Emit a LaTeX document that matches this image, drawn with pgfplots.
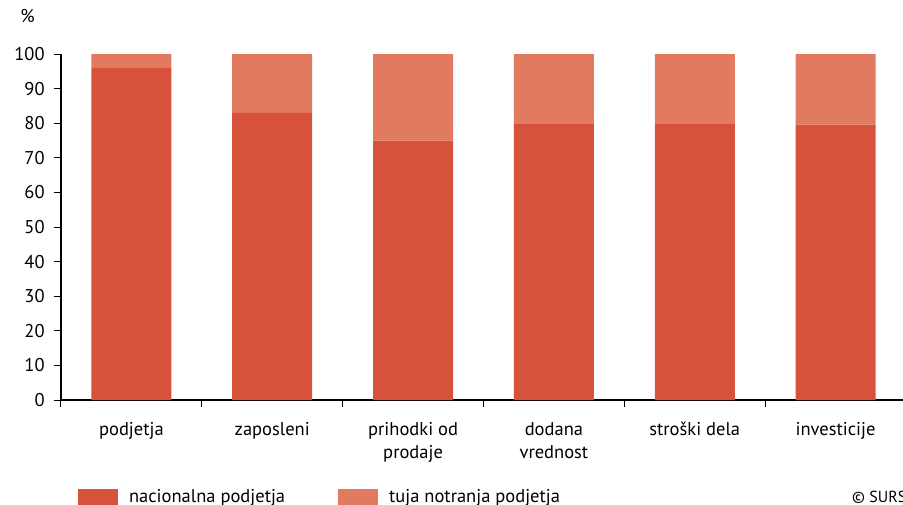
\documentclass[border=0pt]{standalone}
\usepackage{pgfplots}
\pgfplotsset{compat=1.18}
\usepackage{fontspec}
\setmainfont{PT Sans}
\definecolor{nac}{HTML}{D6523A}
\definecolor{tuja}{HTML}{E27A60}
\begin{document}
\fontsize{18.5}{22}\selectfont
\begin{tikzpicture}
\begin{axis}[
  at={(0pt,0pt)}, anchor=south west,
  scale only axis, width=845pt, height=346pt,
  ybar stacked, bar width=80pt,
  enlargelimits=false,
  xmin=-0.5, xmax=5.5, ymin=0, ymax=100,
  ytick={0,10,...,100},
  xtick={-0.5,0.5,...,5.5},
  x tick label as interval,
  xticklabels={podjetja,zaposleni,{prihodki od\\prodaje},{dodana\\vrednost},stroški dela,investicije},
  xticklabel style={align=center, font=\fontsize{18.5}{23.5}\selectfont, yshift=-9pt},
  yticklabel style={font=\fontsize{18.5}{22}\selectfont, xshift=-3pt},
  axis x line=bottom, axis y line=left,
  axis line style={line width=1.5pt, -},
  tick style={line width=1pt, black},
  tick align=outside, major tick length=7pt,
  /pgf/number format/assume math mode=true,
  legend columns=2,
  legend style={at={(0.02,-0.251)}, anchor=north west, draw=none, inner sep=0pt,
    font=\fontsize{18.5}{22}\selectfont,
    /tikz/every even column/.append style={column sep=51pt}},
  legend cell align=left,
  clip=false,
]
\addplot[fill=nac, draw=none, legend image code/.code={\fill[nac] (0pt,-8pt) rectangle (40pt,8pt); \path (49pt,0pt);}] coordinates {(0,96) (1,83) (2,75) (3,79.7) (4,79.7) (5,79.6)};
\addplot[fill=tuja, draw=none, legend image code/.code={\fill[tuja] (0pt,-8pt) rectangle (40pt,8pt); \path (49pt,0pt);}] coordinates {(0,4) (1,17) (2,25) (3,20.3) (4,20.3) (5,20.4)};
\legend{nacionalna podjetja, tuja notranja podjetja}
\end{axis}
\node at (-33.5pt,383.5pt) {\%};
\node[anchor=north west, inner sep=0pt, font=\fontsize{16}{19}\selectfont] at (791pt,-91pt) {© SURS};
\pgfresetboundingbox
\path[use as bounding box] (-61pt,-104pt) rectangle (842pt,400pt);
\end{tikzpicture}
\end{document}
